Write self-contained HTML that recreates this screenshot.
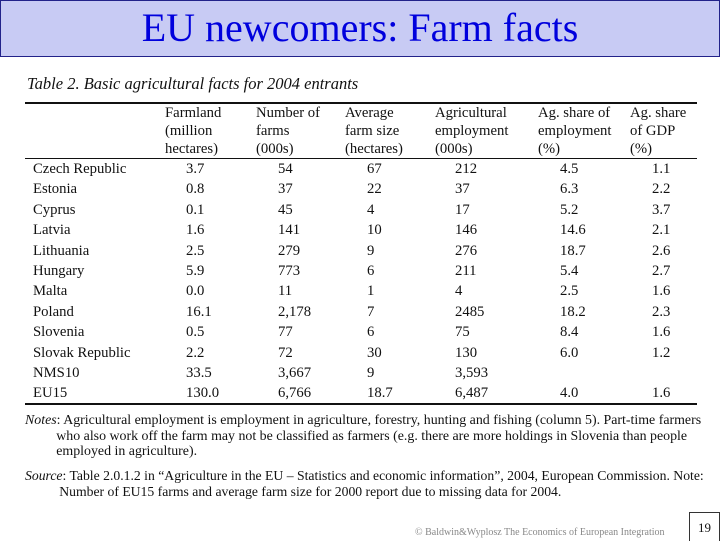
<!DOCTYPE html>
<html><head><meta charset="utf-8"><style>
body{margin:0;width:720px;height:540px;background:#fff;position:relative;overflow:hidden;font-family:"Liberation Serif",serif;color:#111}
.a{position:absolute;white-space:nowrap}
#band{position:absolute;left:0;top:0;width:718px;height:55px;background:#c8cbf4;border:1px solid #22228a}
#title{position:absolute;left:0;width:720px;top:5px;text-align:center;font-size:40px;color:#0000dd;line-height:46px}
.rule{position:absolute;left:25px;width:672px;background:#111}
.c{font-size:14.7px;line-height:16px}
.h{font-size:14.7px;line-height:18px}
.n{font-size:13.9px;line-height:15.5px}
</style></head><body>
<div id="band"></div>
<div id="title">EU newcomers: Farm facts</div>
<div class="a" style="left:27px;top:74px;font-size:16.5px;font-style:italic">Table 2. Basic agricultural facts for 2004 entrants</div>
<div class="rule" style="top:102px;height:1.5px"></div>
<div class="rule" style="top:158px;height:1px"></div>
<div class="rule" style="top:403px;height:1.5px"></div>
<div id="tbl"></div>
<div class="a n" style="left:25px;top:413px"><i>Notes</i>: Agricultural employment is employment in agriculture, forestry, hunting and fishing (column 5). Part-time farmers<br>&nbsp;&nbsp;&nbsp;&nbsp;&nbsp;&nbsp;&nbsp;&nbsp;&nbsp;who also work off the farm may not be classified as farmers (e.g. there are more holdings in Slovenia than people<br>&nbsp;&nbsp;&nbsp;&nbsp;&nbsp;&nbsp;&nbsp;&nbsp;&nbsp;employed in agriculture).</div>
<div class="a n" style="left:25px;top:468px;font-size:13.7px"><i>Source</i>: Table 2.0.1.2 in “Agriculture in the EU – Statistics and economic information”, 2004, European Commission. Note:<br>&nbsp;&nbsp;&nbsp;&nbsp;&nbsp;&nbsp;&nbsp;&nbsp;&nbsp;&nbsp;Number of EU15 farms and average farm size for 2000 report due to missing data for 2004.</div>
<div class="a" style="left:415px;top:527px;font-size:10px;color:#888">© Baldwin&amp;Wyplosz The Economics of European Integration</div>
<div class="a" style="left:689px;top:512px;width:29px;height:28px;border:1px solid #333;border-bottom:none;font-size:13px;text-align:center;line-height:30px">19</div>
<script>
const headers=[["Farmland","(million","hectares)"],["Number of","farms","(000s)"],["Average","farm size","(hectares)"],["Agricultural","employment","(000s)"],["Ag. share of","employment","(%)"],["Ag. share","of GDP","(%)"]];
const countries=["Czech Republic","Estonia","Cyprus","Latvia","Lithuania","Hungary","Malta","Poland","Slovenia","Slovak Republic","NMS10","EU15"];
const farmland=["3.7","0.8","0.1","1.6","2.5","5.9","0.0","16.1","0.5","2.2","33.5","130.0"];
const farms=["54","37","45","141","279","773","11","2,178","77","72","3,667","6,766"];
const avgSize=["67","22","4","10","9","6","1","7","6","30","9","18.7"];
const employment=["212","37","17","146","276","211","4","2485","75","130","3,593","6,487"];
const empShare=["4.5","6.3","5.2","14.6","18.7","5.4","2.5","18.2","8.4","6.0","","4.0"];
const gdpShare=["1.1","2.2","3.7","2.1","2.6","2.7","1.6","2.3","1.6","1.2","","1.6"];
const cols=[farmland,farms,avgSize,employment,empShare,gdpShare];
const hx=[165,256,345,435,538,630], vx=[186,278,367,455,560,652];
const t=document.getElementById('tbl');
headers.forEach((h,i)=>{
 const d=document.createElement('div');d.className='a h';d.style.left=hx[i]+'px';d.style.top='104px';
 d.innerHTML=h.join('<br>');
 
 
 t.appendChild(d);
});
countries.forEach((c,r)=>{
 const y=161+r*20.4;
 const d=document.createElement('div');d.className='a c';d.style.left='33px';d.style.top=y+'px';d.textContent=c;
 
 
 t.appendChild(d);
 cols.forEach((col,i)=>{
  const e=document.createElement('div');e.className='a c';e.style.left=vx[i]+'px';e.style.top=y+'px';e.textContent=col[r];
  
  
  t.appendChild(e);
 });
});
</script>
</body></html>
